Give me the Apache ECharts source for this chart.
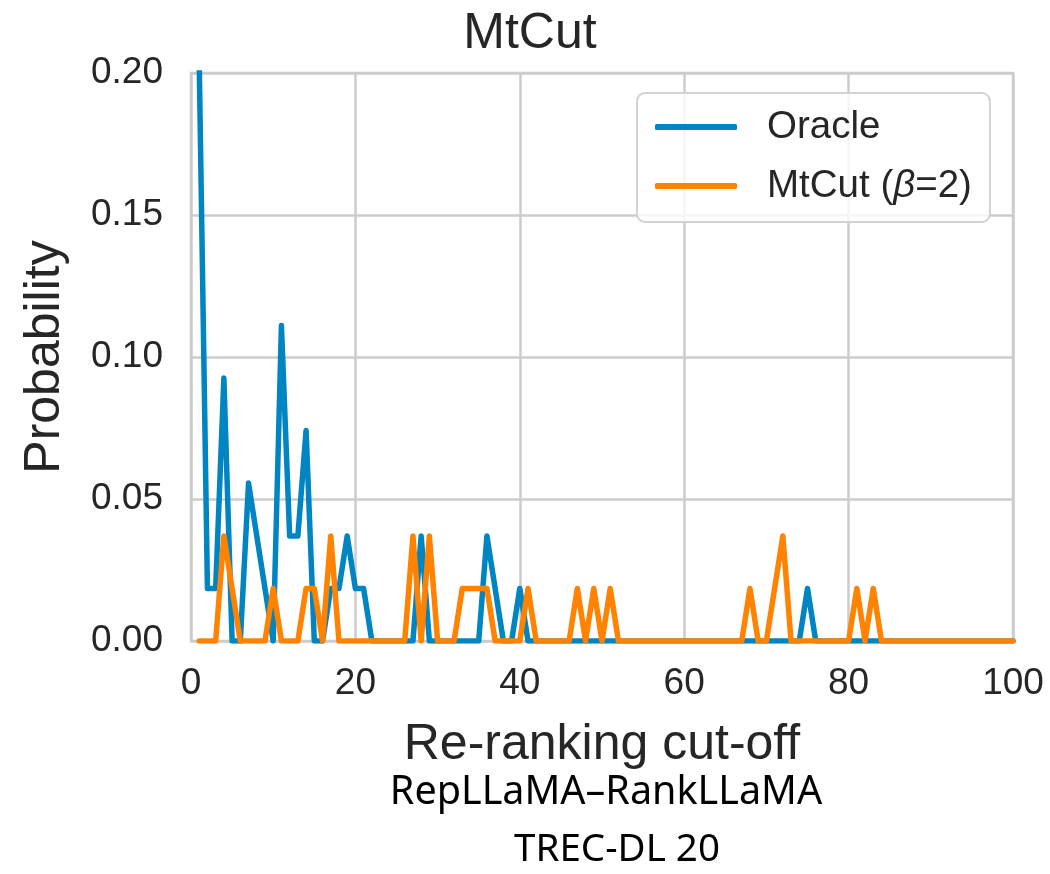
<!DOCTYPE html>
<html>
<head>
<meta charset="utf-8">
<script src="https://cdn.jsdelivr.net/npm/echarts@6/dist/echarts.min.js"></script>
<style>
html,body{margin:0;padding:0;background:#fff;}
#chart{width:1050px;height:874px;}
</style>
</head>
<body>
<div id="chart"></div>
<script>
// Re-ranking cut-off positions 1..100
const cutoffs = [
  1,2,3,4,5,6,7,8,9,10,11,12,13,14,15,16,17,18,19,20,
  21,22,23,24,25,26,27,28,29,30,31,32,33,34,35,36,37,38,39,40,
  41,42,43,44,45,46,47,48,49,50,51,52,53,54,55,56,57,58,59,60,
  61,62,63,64,65,66,67,68,69,70,71,72,73,74,75,76,77,78,79,80,
  81,82,83,84,85,86,87,88,89,90,91,92,93,94,95,96,97,98,99,100
];
const oracle = [
  0.2037,0.0185,0.0185,0.0926,0,0,0.0556,0.037,0.0185,0,
  0.1111,0.037,0.037,0.0741,0,0,0.0185,0.0185,0.037,0.0185,
  0.0185,0,0,0,0,0,0,0.037,0,0,
  0,0,0,0,0,0.037,0.0185,0,0,0.0185,
  0,0,0,0,0,0,0,0,0,0,
  0,0,0,0,0,0,0,0,0,0,
  0,0,0,0,0,0,0,0,0,0,
  0,0,0,0,0.0185,0,0,0,0,0,
  0,0,0,0,0,0,0,0,0,0,
  0,0,0,0,0,0,0,0,0,0
];
const mtcut = [
  0,0,0,0.037,0.0185,0,0,0,0,0.0185,
  0,0,0,0.0185,0.0185,0,0.037,0,0,0,
  0,0,0,0,0,0,0.037,0,0.037,0,
  0,0,0.0185,0.0185,0.0185,0.0185,0,0,0,0,
  0.0185,0,0,0,0,0,0.0185,0,0.0185,0,
  0.0185,0,0,0,0,0,0,0,0,0,
  0,0,0,0,0,0,0,0.0185,0,0,
  0.0185,0.037,0,0,0,0,0,0,0,0,
  0.0185,0,0.0185,0,0,0,0,0,0,0,
  0,0,0,0,0,0,0,0,0,0
];
const seriesNames = ['Oracle', 'MtCut (β=2)'];
const xTicks = [0, 20, 40, 60, 80, 100];
const yTicks = [0, 0.05, 0.10, 0.15, 0.20];

const TXT = '#262626';
const FONT = '"Liberation Sans", Arial, sans-serif';
const chart = echarts.init(document.getElementById('chart'), null, {renderer: 'canvas'});
chart.setOption({
  backgroundColor: '#ffffff',
  animation: false,
  textStyle: {fontFamily: FONT},
  grid: {left: 191, right: 37, top: 73, bottom: 233, show: true, borderColor: '#cccccc', borderWidth: 2.5, backgroundColor: 'transparent'},
  xAxis: {
    type: 'value', min: xTicks[0], max: xTicks[xTicks.length - 1], interval: 20,
    name: 'Re-ranking cut-off', nameLocation: 'middle', nameGap: 79,
    nameTextStyle: {fontSize: 50, color: TXT, fontFamily: FONT},
    axisLine: {show: false}, axisTick: {show: false},
    axisLabel: {fontSize: 37, color: TXT, margin: 24, fontFamily: FONT},
    splitLine: {show: true, lineStyle: {color: '#cccccc', width: 2.5}}
  },
  yAxis: {
    type: 'value', min: yTicks[0], max: yTicks[yTicks.length - 1], interval: 0.05,
    name: 'Probability', nameLocation: 'middle', nameGap: 121,
    nameTextStyle: {fontSize: 50, color: TXT, fontFamily: FONT},
    axisLine: {show: false}, axisTick: {show: false},
    axisLabel: {fontSize: 37, color: TXT, margin: 28, fontFamily: FONT, formatter: v => v.toFixed(2)},
    splitLine: {show: true, lineStyle: {color: '#cccccc', width: 2.5}}
  },
  legend: {
    orient: 'vertical', left: 637, top: 93,
    data: seriesNames,
    icon: 'roundRect', itemWidth: 82, itemHeight: 6, itemGap: 15,
    padding: [12, 18, 14, 18],
    backgroundColor: 'rgba(255,255,255,0.8)', borderColor: '#d2d2d2', borderWidth: 2, borderRadius: 8,
    formatter: n => n === seriesNames[1] ? 'MtCut ({i|β}=2)' : n,
    textStyle: {fontSize: 38.5, color: TXT, lineHeight: 44, padding: [0, 0, 0, 25], fontFamily: FONT,
      rich: {i: {fontSize: 38.5, fontStyle: 'italic', color: TXT, fontFamily: FONT}}}
  },
  series: [
    {name: seriesNames[0], type: 'line', data: cutoffs.map((x, i) => [x, oracle[i]]), symbol: 'none', clip: true,
     color: '#0085c3', lineStyle: {width: 5.5, color: '#0085c3', cap: 'round', join: 'round'}},
    {name: seriesNames[1], type: 'line', data: cutoffs.map((x, i) => [x, mtcut[i]]), symbol: 'none', clip: true,
     color: '#ff8200', lineStyle: {width: 5.5, color: '#ff8200', cap: 'round', join: 'round'}}
  ],
  graphic: [
    {type: 'text', x: 530, y: 34, style: {text: 'MtCut', fontSize: 50, fontFamily: FONT, fill: TXT, align: 'center', verticalAlign: 'middle'}},
    {type: 'text', x: 606, y: 793, style: {text: 'RepLLaMA–RankLLaMA', fontSize: 39.5, fontFamily: '"Noto Sans", "Open Sans", sans-serif', fill: '#000', align: 'center', verticalAlign: 'middle'}},
    {type: 'text', x: 617, y: 850, style: {text: 'TREC-DL 20', fontSize: 38.5, fontFamily: '"Noto Sans", "Open Sans", sans-serif', fill: '#000', align: 'center', verticalAlign: 'middle'}}
  ]
});
</script>
</body>
</html>
